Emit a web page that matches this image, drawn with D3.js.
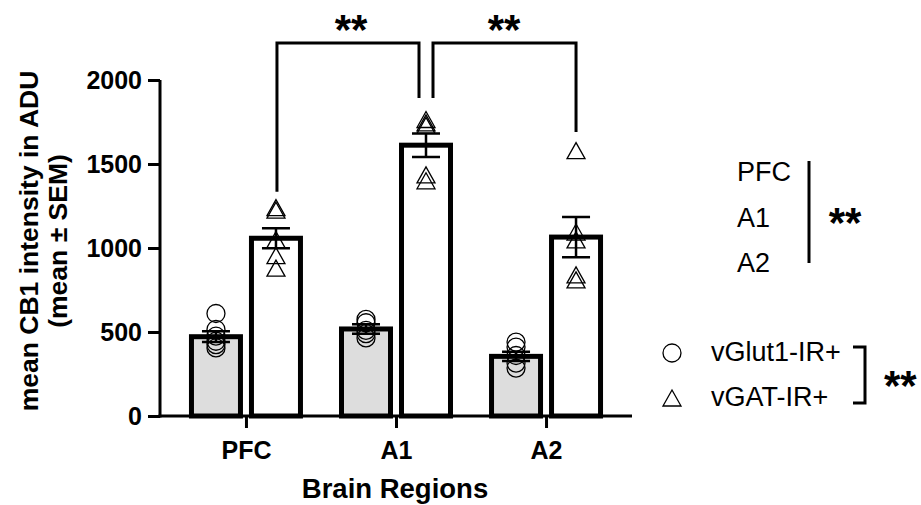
<!DOCTYPE html>
<html><head><meta charset="utf-8">
<script src="https://cdn.jsdelivr.net/npm/d3@7"></script>
<style>
html,body{margin:0;padding:0;background:#fff;}
svg{display:block;}
text{font-family:"Liberation Sans",Arial,sans-serif;fill:#000;}
</style></head>
<body>
<svg id="chart" width="921" height="505"></svg>
<script>
// ---- data ----
const categories = ["PFC", "A1", "A2"];
const groups = ["vGlut1-IR+", "vGAT-IR+"];
const vglutMean = [472, 518, 355];
const vglutSem = [32, 28, 28];
const vgatMean = [1058, 1612, 1065];
const vgatSem = [60, 70, 120];
const vglutPoints = [[610, 515, 475, 445, 425, 405], [575, 555, 510, 490, 465], [440, 410, 360, 315, 285]];
const vgatPoints = [[1240, 1225, 1050, 955, 880], [1765, 1745, 1730, 1435, 1400], [1580, 1095, 1048, 840, 810]];
const yTicks = [0, 500, 1000, 1500, 2000];
const yTitle = ["mean CB1 intensity in ADU", "(mean ± SEM)"];
const xTitle = "Brain Regions";
const starText = "**";

// ---- layout ----
const svg = d3.select("#chart");
const y = d3.scaleLinear().domain([0, 2000]).range([416, 80]);
const x = d3.scalePoint().domain(categories).range([160, 632]).padding(0.573);
const off = d3.scalePoint().domain(groups).range([-30, 30]);
const barW = 49;

const series = [
  {key: groups[0], mean: vglutMean, sem: vglutSem, pts: vglutPoints, fill: "#dddddd", sym: "circle"},
  {key: groups[1], mean: vgatMean, sem: vgatSem, pts: vgatPoints, fill: "#ffffff", sym: "triangle"}
];
const rows = [];
series.forEach(s => categories.forEach((c, i) => rows.push({s, c, i, cx: x(c) + off(s.key), mean: s.mean[i], sem: s.sem[i], pts: s.pts[i]})));

// bars
svg.append("g").selectAll("rect").data(rows).join("rect")
  .attr("x", d => d.cx - barW / 2).attr("width", barW)
  .attr("y", d => y(d.mean)).attr("height", d => y(0) - y(d.mean))
  .attr("fill", d => d.s.fill).attr("stroke", "#000").attr("stroke-width", 5);

// axes
const yAxis = svg.append("g").attr("transform", "translate(160,0)")
  .call(d3.axisLeft(y).tickValues(yTicks).tickSize(12).tickSizeOuter(0).tickPadding(6).tickFormat(d3.format("d")));
const xAxis = svg.append("g").attr("transform", "translate(0,416)")
  .call(d3.axisBottom(x).tickSize(12).tickSizeOuter(0).tickPadding(13));
[yAxis, xAxis].forEach(a => {
  a.selectAll("path.domain,line").attr("stroke", "#000").attr("stroke-width", 3);
  a.selectAll("text").attr("font-family", "Liberation Sans, Arial, sans-serif").attr("font-weight", "bold").attr("font-size", 25).attr("fill", "#000");
});
xAxis.select("path.domain").attr("d", "M158.5,0H632");
yAxis.select("path.domain").attr("d", "M0,80V417.5");

// points
const tri = d3.path(); tri.moveTo(0, -8); tri.lineTo(9, 8); tri.lineTo(-9, 8); tri.closePath();
const triD = tri.toString();
const pts = [];
rows.forEach(r => r.pts.forEach(v => pts.push({cx: r.cx, v, sym: r.s.sym})));
const pg = svg.append("g");
pg.selectAll("circle").data(pts.filter(p => p.sym === "circle")).join("circle")
  .attr("cx", d => d.cx).attr("cy", d => y(d.v)).attr("r", 9)
  .attr("fill", "none").attr("stroke", "#000").attr("stroke-width", 1.3);
pg.selectAll("path").data(pts.filter(p => p.sym === "triangle")).join("path")
  .attr("d", triD).attr("transform", d => `translate(${d.cx},${y(d.v)})`)
  .attr("fill", "none").attr("stroke", "#000").attr("stroke-width", 1.3);

// error bars
const eg = svg.append("g").attr("stroke", "#000").attr("stroke-width", 2.5).attr("fill", "none");
rows.forEach(r => {
  const t = y(r.mean + r.sem), b = y(r.mean - r.sem);
  eg.append("path").attr("d", `M${r.cx},${t}V${b}M${r.cx - 14},${t}H${r.cx + 14}M${r.cx - 14},${b}H${r.cx + 14}`);
});

// significance brackets
const bg = svg.append("g").attr("stroke", "#000").attr("stroke-width", 3).attr("fill", "none");
const xv = c => x(c) + off(groups[1]);
const topY = y(2220);
bg.append("path").attr("d", `M${xv("PFC") + 1},${y(1335)}V${topY}H${xv("A1") - 7}V${y(1893)}`);
bg.append("path").attr("d", `M${xv("A1") + 7},${y(1893)}V${topY}H${xv("A2")}V${y(1690)}`);
function stars(cx, cy, anchor) {
  svg.append("text").attr("x", cx).attr("y", cy + 22).attr("text-anchor", anchor || "middle")
    .attr("font-weight", "bold").attr("font-size", 42).text(starText);
}
stars((xv("PFC") + xv("A1")) / 2, 22);
stars((xv("A1") + xv("A2")) / 2 + 3, 22);

// axis titles
const yt = svg.append("text").attr("transform", "translate(38,241) rotate(-90)")
  .attr("text-anchor", "middle").attr("font-weight", "bold").attr("font-size", 26.5);
yt.append("tspan").attr("x", 0).attr("y", 0).text(yTitle[0]);
yt.append("tspan").attr("x", 0).attr("y", 29).text(yTitle[1]);
svg.append("text").attr("x", 395).attr("y", 498).attr("text-anchor", "middle")
  .attr("font-weight", "bold").attr("font-size", 27.5).text(xTitle);

// region legend
const lg = svg.append("g");
categories.forEach((c, i) => lg.append("text").attr("x", 737).attr("y", 181 + i * 45.5).attr("font-size", 27).text(c));
lg.append("line").attr("x1", 809).attr("x2", 809).attr("y1", 161).attr("y2", 263).attr("stroke", "#000").attr("stroke-width", 3);
stars(845, 215);

// group legend
groups.forEach((g, i) => {
  const cy = [353, 398][i];
  if (i === 0) lg.append("circle").attr("cx", 672).attr("cy", cy).attr("r", 9).attr("fill", "none").attr("stroke", "#000").attr("stroke-width", 1.3);
  else lg.append("path").attr("d", triD).attr("transform", `translate(672,${cy})`).attr("fill", "none").attr("stroke", "#000").attr("stroke-width", 1.3);
  lg.append("text").attr("x", 711).attr("y", cy + 8).attr("font-size", 27).text(g);
});
lg.append("path").attr("d", "M853,347H865V403H853").attr("fill", "none").attr("stroke", "#000").attr("stroke-width", 3);
stars(884, 378, "start");
</script>
</body></html>
